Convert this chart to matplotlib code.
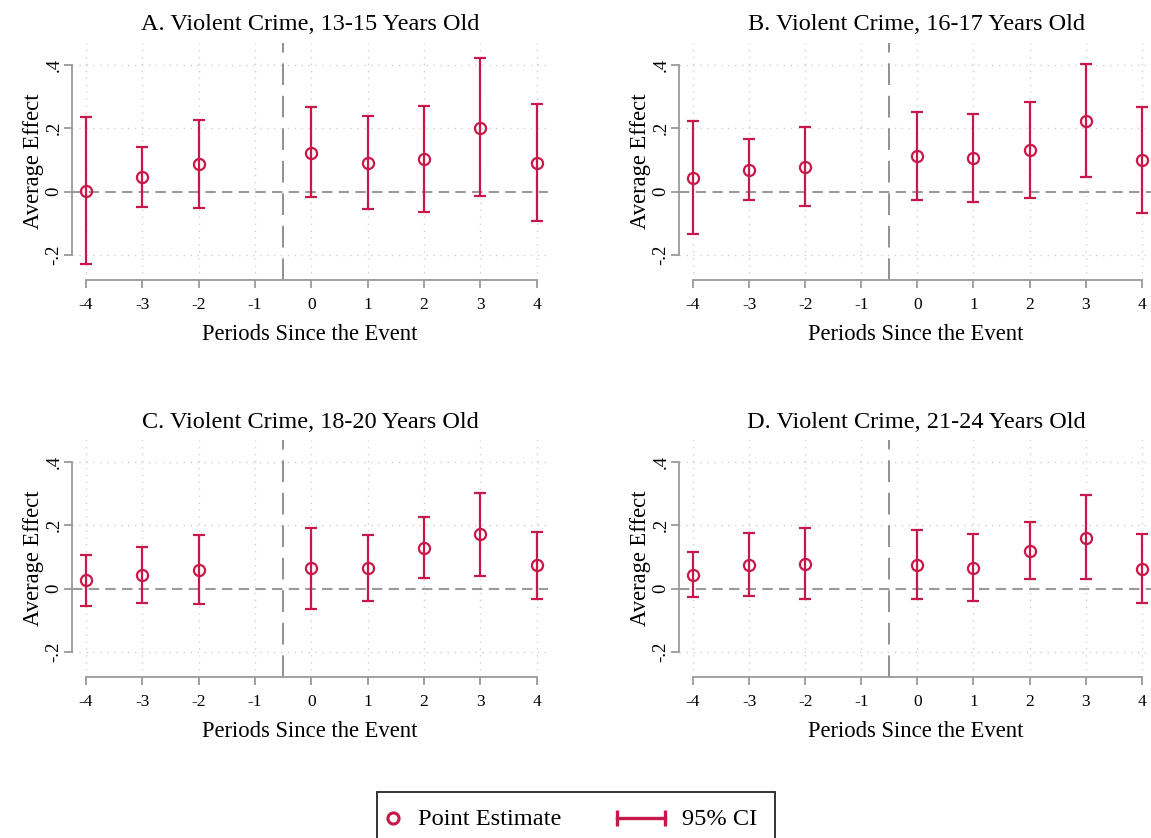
import matplotlib
matplotlib.use("Agg")
import matplotlib.pyplot as plt
from matplotlib.lines import Line2D
from matplotlib.patches import Rectangle

plt.rcParams['font.family'] = ['Liberation Serif', 'DejaVu Serif']

# periods since the event (-1 is the reference period, no estimate)
periods = [-4, -3, -2, 0, 1, 2, 3, 4]
tick_periods = [-4, -3, -2, -1, 0, 1, 2, 3, 4]

titles = ["A. Violent Crime, 13-15 Years Old",
          "B. Violent Crime, 16-17 Years Old",
          "C. Violent Crime, 18-20 Years Old",
          "D. Violent Crime, 21-24 Years Old"]

# point estimates and 95% CI bounds
est_a = [0.003, 0.045, 0.086, 0.123, 0.091, 0.104, 0.202, 0.091]
lo_a = [-0.228, -0.050, -0.052, -0.016, -0.055, -0.066, -0.015, -0.094]
hi_a = [0.236, 0.141, 0.225, 0.266, 0.239, 0.271, 0.421, 0.278]

est_b = [0.042, 0.068, 0.077, 0.112, 0.105, 0.132, 0.224, 0.100]
lo_b = [-0.136, -0.028, -0.045, -0.026, -0.033, -0.019, 0.047, -0.067]
hi_b = [0.222, 0.167, 0.203, 0.253, 0.245, 0.284, 0.403, 0.268]

est_c = [0.026, 0.043, 0.060, 0.064, 0.065, 0.129, 0.171, 0.073]
lo_c = [-0.054, -0.046, -0.048, -0.065, -0.038, 0.034, 0.040, -0.034]
hi_c = [0.106, 0.132, 0.168, 0.193, 0.169, 0.226, 0.301, 0.180]

est_d = [0.043, 0.075, 0.079, 0.075, 0.066, 0.119, 0.161, 0.063]
lo_d = [-0.026, -0.023, -0.033, -0.034, -0.040, 0.029, 0.029, -0.046]
hi_d = [0.116, 0.175, 0.191, 0.186, 0.174, 0.211, 0.296, 0.172]

panels = [(est_a, lo_a, hi_a), (est_b, lo_b, hi_b),
          (est_c, lo_c, hi_c), (est_d, lo_d, hi_d)]

red = '#c8184a'
gray = '#9a9a9a'

W, H = 1151, 838
fig = plt.figure(figsize=(W / 100, H / 100), dpi=100)

# axes boxes in pixels: left, top, width
boxes = [(72, 43, 476), (679, 43, 474), (72, 440, 476), (679, 440, 474)]
ah = 237

for (left, top, aw), title, (est, lo, hi) in zip(boxes, titles, panels):
    ax = fig.add_axes([left / W, 1 - (top + ah) / H, aw / W, ah / H])
    err = [[e - l for e, l in zip(est, lo)], [h - e for e, h in zip(est, hi)]]

    # grid
    for x in tick_periods:
        ax.axvline(x, color='#d0d0d0', lw=1, ls=(0, (1, 4)), zorder=0)
    for y in [-0.2, 0.2, 0.4]:
        ax.axhline(y, color='#d0d0d0', lw=1, ls=(0, (1, 4)), zorder=0)
    ax.axhline(0, color=gray, lw=1.5, ls=(0, (5, 3)), zorder=1)
    ax.axvline(-0.5, color='#888888', lw=1.3, ls=(0, (12, 6)), zorder=1)

    ax.errorbar(periods, est, yerr=err, fmt='o', color=red, ecolor=red,
                elinewidth=1.6, capsize=4.5, capthick=1.6,
                markersize=8, markerfacecolor='none', markeredgewidth=1.6,
                zorder=3)

    ax.set_xlim(-4.25, 4.2)
    ax.set_ylim(-0.28, 0.47)
    ax.set_xticks(tick_periods)
    ax.set_xticklabels([str(t) for t in tick_periods], fontsize=12.5)
    ax.set_yticks([-0.2, 0, 0.2, 0.4])
    ax.set_yticklabels(['-.2', '0', '.2', '.4'], fontsize=13.5, rotation=90,
                       va='center')

    for s in ['top', 'right']:
        ax.spines[s].set_visible(False)
    for s in ['left', 'bottom']:
        ax.spines[s].set_color(gray)
        ax.spines[s].set_linewidth(1.3)
    ax.spines['left'].set_bounds(-0.2, 0.4)
    ax.spines['bottom'].set_bounds(-4, 4)
    ax.tick_params(axis='both', color=gray, width=1.3, length=6)
    ax.tick_params(axis='x', pad=6)
    ax.tick_params(axis='y', pad=1)

    ax.set_title(title, fontsize=17.5, pad=9)
    ax.set_xlabel('Periods Since the Event', fontsize=16.3, labelpad=8)
    ax.set_ylabel('Average Effect', fontsize=16.3, labelpad=1)
    ax.patch.set_visible(False)

# legend box at the bottom, drawn in figure pixels
def fx(px):
    return px / W


def fy(py):
    return 1 - py / H


fig.patches.append(Rectangle((fx(377), fy(846)), fx(775) - fx(377), fy(792) - fy(846),
                             transform=fig.transFigure, fill=False,
                             edgecolor='#222222', lw=1.3))
fig.lines.append(Line2D([fx(393)], [fy(818)], transform=fig.transFigure,
                        color=red, marker='o', markersize=8, ls='none',
                        markerfacecolor='none', markeredgewidth=2.2))
fig.text(fx(418), fy(819), 'Point Estimate', fontsize=17.6, va='center')
fig.lines.append(Line2D([fx(617), fx(665)], [fy(818), fy(818)],
                        transform=fig.transFigure, color=red, lw=2.4,
                        marker='|', markersize=11, markeredgewidth=2.4))
fig.text(fx(682), fy(819), '95% CI', fontsize=17.6, va='center')

fig.savefig('out.png', dpi=100)
